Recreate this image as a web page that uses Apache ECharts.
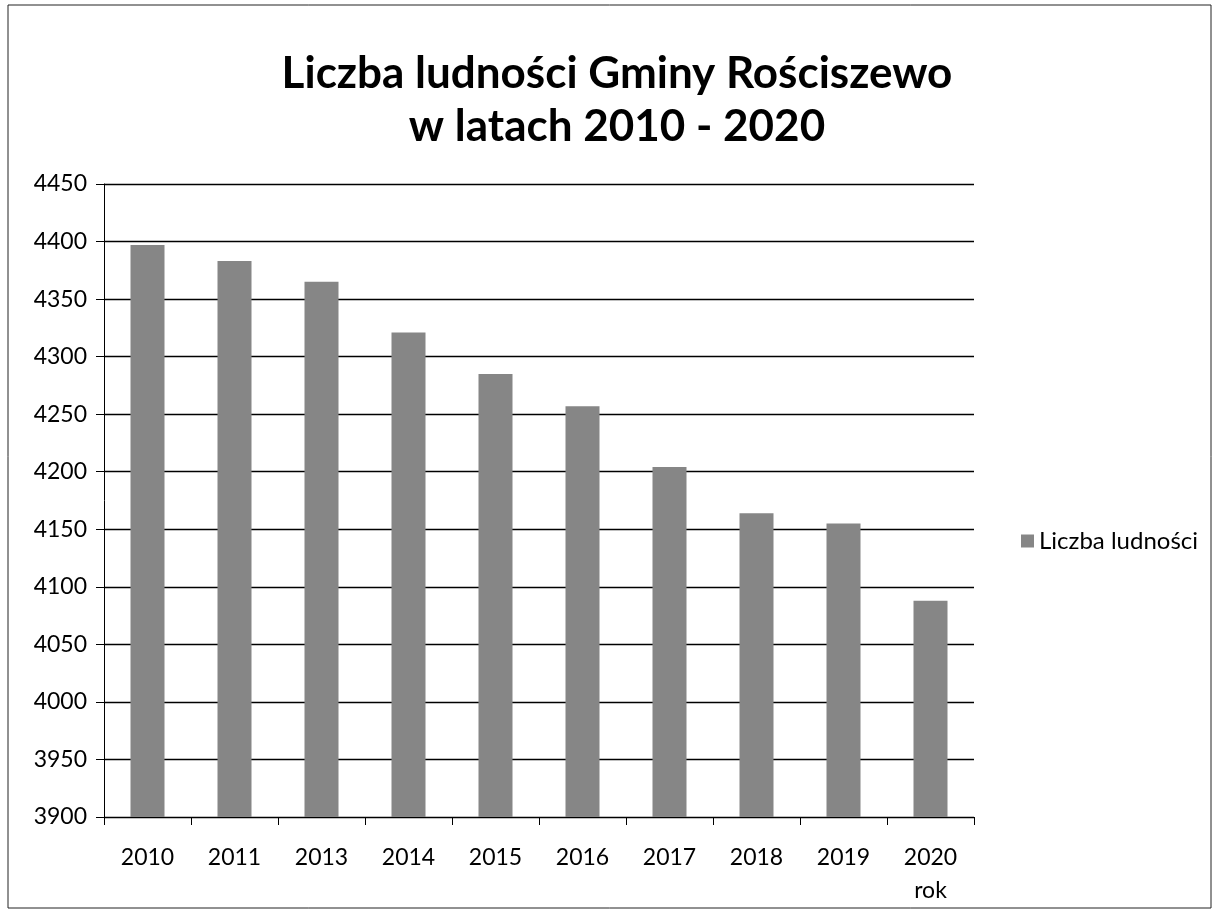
<!DOCTYPE html>
<html>
<head>
<meta charset="utf-8">
<script src="https://cdn.jsdelivr.net/npm/echarts@6/dist/echarts.min.js"></script>
<style>
  html, body { margin: 0; padding: 0; background: #fff; }
  #chart { width: 1217px; height: 910px; }
</style>
</head>
<body>
<div id="chart"></div>
<script>
    // dane
    var years = ['2010', '2011', '2013', '2014', '2015', '2016', '2017', '2018', '2019', '2020'];
    var population = [4397, 4383, 4365, 4321, 4285, 4257, 4204, 4164, 4155, 4088];
    var seriesName = 'Liczba ludności';
    var titleText = 'Liczba ludności Gminy Rościszewo\nw latach 2010 - 2020';
    var axisName = 'rok';

    var chart = echarts.init(document.getElementById('chart'));
    var option = {
        animation: false,
        textStyle: { fontFamily: 'Lato' },
        title: {
            text: titleText,
            left: 612,
            top: 42,
            textAlign: 'center',
            textStyle: {
                fontSize: 44,
                fontWeight: 'bold',
                color: '#000',
                lineHeight: 53,
                fontFamily: 'Lato'
            }
        },
        graphic: [{
            type: 'rect',
            shape: { x: 8, y: 5, width: 1203, height: 903 },
            style: { fill: 'none', stroke: '#222', lineWidth: 1 }
        }],
        legend: {
            data: [seriesName],
            orient: 'vertical',
            left: 1016,
            top: 524,
            itemWidth: 13,
            itemHeight: 13,
            itemGap: 6,
            icon: 'rect',
            textStyle: { fontSize: 24, color: '#000', fontFamily: 'Lato' }
        },
        grid: {
            left: 104,
            right: 243,
            top: 184,
            bottom: 93
        },
        xAxis: {
            type: 'category',
            data: years,
            axisLine: { lineStyle: { color: '#000', width: 1 } },
            axisTick: { show: true, length: 8, lineStyle: { color: '#000' } },
            axisLabel: {
                fontSize: 23,
                color: '#000',
                margin: 24,
                lineHeight: 33,
                formatter: function (v) {
                    return v === '2020' ? v + '\n' + axisName : v;
                }
            }
        },
        yAxis: {
            type: 'value',
            min: 3900,
            max: 4450,
            interval: 50,
            axisLine: { show: true, lineStyle: { color: '#000', width: 1 } },
            axisTick: { show: true, length: 8, lineStyle: { color: '#000' } },
            axisLabel: {
                fontSize: 23,
                color: '#000',
                margin: 17,
                formatter: function (v) { return String(v); }
            },
            splitLine: { lineStyle: { color: '#000', width: 1.3 } }
        },
        series: [{
            name: seriesName,
            type: 'bar',
            data: population,
            barWidth: 34,
            itemStyle: { color: '#868686' }
        }]
    };
    chart.setOption(option);
</script>
</body>
</html>
